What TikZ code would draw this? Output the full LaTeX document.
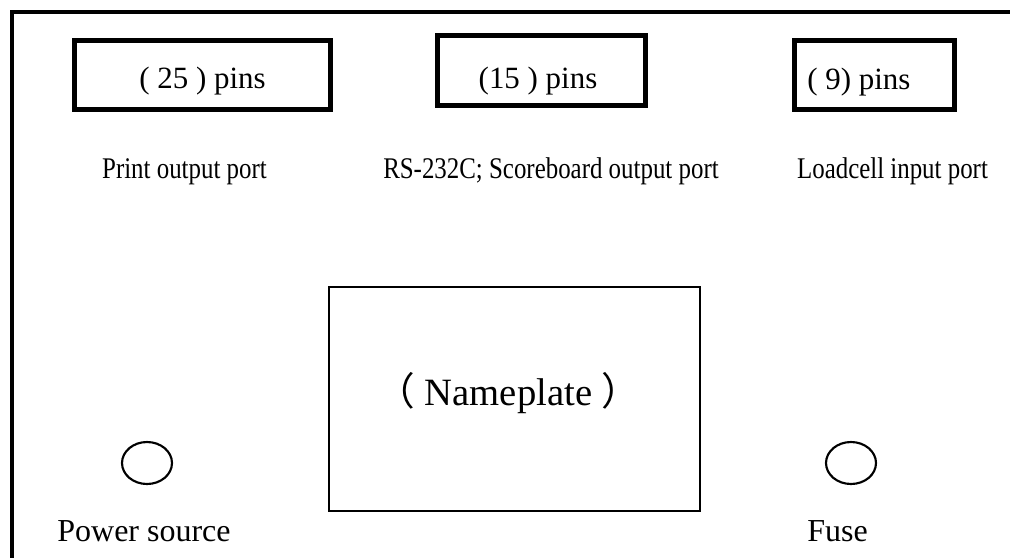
\documentclass[tikz,border=0pt]{standalone}
\usepackage{fontspec}
\setmainfont{Liberation Serif}
\newfontfamily\narrowserif[FakeStretch=0.83]{Liberation Serif}
\newfontfamily\cjk{Noto Sans CJK SC}
\usetikzlibrary{shapes.geometric}
\tikzset{
  portbox/.style={draw, line width=3.75pt, inner sep=0pt, rectangle},
  platebox/.style={draw, line width=1.5pt, inner sep=0pt, rectangle},
  knob/.style={draw, line width=1.6pt, ellipse, inner sep=0pt, minimum width=37.5pt, minimum height=31.5pt},
  pinlabel/.style={anchor=base, inner sep=0pt, font=\fontsize{23.2pt}{26pt}\selectfont},
  portlabel/.style={anchor=base, inner sep=0pt, font=\narrowserif\fontsize{22.5pt}{26pt}\selectfont},
  partlabel/.style={anchor=base, inner sep=0pt, font=\fontsize{24pt}{28pt}\selectfont},
  platelabel/.style={anchor=base, inner sep=0pt, font=\fontsize{29pt}{34pt}\selectfont},
  frame/.style={line width=3.2pt}
}
\begin{document}
\begin{tikzpicture}[x=0.75pt, y=-0.75pt]
\useasboundingbox (0,0) rectangle (1010,558);
% outer frame
\coordinate (ftr) at (1010,12);
\coordinate (ftl) at (12,12);
\coordinate (fbl) at (12,558);
\draw[frame] (ftr) -- (ftl) -- (fbl);
% port boxes
\node[portbox, minimum width=192pt, minimum height=51.75pt] (b1) at (202,75) {};
\node[portbox, minimum width=156pt, minimum height=52.5pt] (b2) at (541.5,70.5) {};
\node[portbox, minimum width=120pt, minimum height=51.75pt] (b3) at (874.5,75) {};
\node[pinlabel] (t1) at (202.5,88) {( 25 ) pins};
\node[pinlabel] (t2) at (538,88) {(15 ) pins};
\node[pinlabel, anchor=base west] (t3) at (807,89) {( 9) pins};
% port labels
\node[portlabel] (l1) at (184.5,178) {Print output port};
\node[portlabel] (l2) at (551,178) {RS-232C; Scoreboard output port};
\node[portlabel] (l3) at (892.5,178) {Loadcell input port};
% nameplate
\node[platebox, minimum width=278.25pt, minimum height=168pt] (np) at (514.5,399) {};
\node[platelabel] (npt) at (508.5,405) {{\cjk （}\hspace{7pt}Nameplate\hspace{7pt}{\cjk ）}};
% power and fuse
\node[knob] (pw) at (147,463) {};
\node[knob] (fu) at (851,463) {};
\node[partlabel] (pwt) at (144,541) {Power source};
\node[partlabel] (fut) at (837.5,541) {Fuse};
\end{tikzpicture}
\end{document}
